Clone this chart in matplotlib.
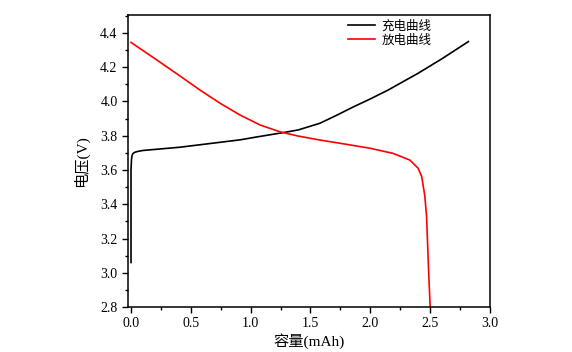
import matplotlib
matplotlib.use("Agg")
import matplotlib.pyplot as plt
from matplotlib.ticker import MultipleLocator

plt.rcParams['font.family'] = ['Liberation Serif', 'Noto Sans CJK SC', 'DejaVu Sans']

# charge curve (black)
charge_x = [0.0, 0.0, 0.004, 0.008, 0.015, 0.03, 0.06, 0.1, 0.409, 0.911,
            1.06, 1.27, 1.398, 1.579, 1.72, 1.857, 2.0, 2.149, 2.4, 2.6, 2.82]
charge_y = [3.06, 3.6, 3.66, 3.683, 3.695, 3.703, 3.709, 3.714, 3.733, 3.776,
            3.794, 3.818, 3.834, 3.873, 3.92, 3.968, 4.015, 4.067, 4.165, 4.25, 4.35]

# discharge curve (red)
dis_x = [0.0, 0.2, 0.409, 0.576, 0.744, 0.911, 1.078, 1.245, 1.398, 1.579,
         1.8, 1.997, 2.19, 2.33, 2.40, 2.43, 2.455, 2.47, 2.485, 2.5]
dis_y = [4.345, 4.25, 4.149, 4.067, 3.99, 3.921, 3.863, 3.823, 3.798, 3.775,
         3.75, 3.727, 3.697, 3.658, 3.61, 3.56, 3.45, 3.33, 3.05, 2.8]

labels = ['充电曲线', '放电曲线']

fig = plt.figure(figsize=(5.72, 3.52), dpi=100)
ax = fig.add_axes([0.2238, 0.1278, 0.6328, 0.8296])

ax.plot(charge_x, charge_y, color='black', lw=1.2, label=labels[0])
ax.plot(dis_x, dis_y, color='red', lw=1.2, label=labels[1])

ax.set_xlim(-0.025, 3.0)
ax.set_ylim(2.8, 4.505)
ax.xaxis.set_major_locator(MultipleLocator(0.5))
ax.xaxis.set_minor_locator(MultipleLocator(0.25))
ax.yaxis.set_major_locator(MultipleLocator(0.2))
ax.yaxis.set_minor_locator(MultipleLocator(0.1))
ax.xaxis.set_major_formatter(lambda v, p: f'{v:.1f}')
ax.yaxis.set_major_formatter(lambda v, p: f'{v:.1f}')
ax.tick_params(which='both', direction='out', top=False, right=False, labelsize=10)
ax.tick_params(which='major', length=4, width=1)
ax.tick_params(which='minor', length=2.5, width=1)
for s in ax.spines.values():
    s.set_linewidth(1.1)

ax.set_xlabel('容量(mAh)', fontsize=11, labelpad=2)
ax.set_ylabel('电压(V)', fontsize=11, labelpad=8)

leg = ax.legend(loc='upper right', bbox_to_anchor=(0.87, 1.02), frameon=False,
                fontsize=9, handlelength=2.2, handletextpad=0.5, labelspacing=0.15)

fig.savefig('out.png', dpi=100)
